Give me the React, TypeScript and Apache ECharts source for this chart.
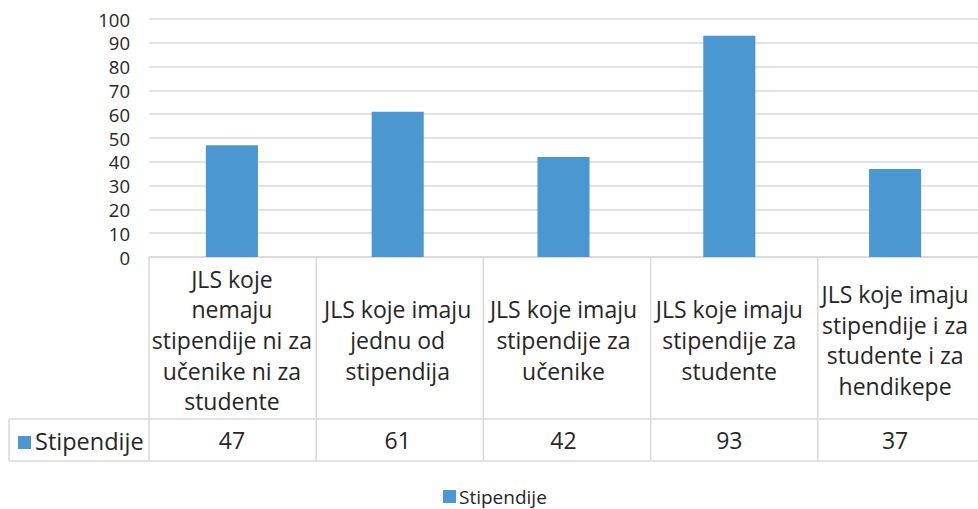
import React, { useEffect, useRef } from "react";
import * as echarts from "echarts";

const categories = [
  "JLS koje\nnemaju\nstipendije ni za\nučenike ni za\nstudente",
  "JLS koje imaju\njednu od\nstipendija",
  "JLS koje imaju\nstipendije za\nučenike",
  "JLS koje imaju\nstipendije za\nstudente",
  "JLS koje imaju\nstipendije i za\nstudente i za\nhendikepe",
];
const seriesName = "Stipendije";
const values = [47, 61, 42, 93, 37];
const yTicks = { min: 0, max: 100, interval: 10 };

const FONT = "'Open Sans', 'Noto Sans', sans-serif";
const TEXT = "#262626";
const LINE = "#d9d9d9";
const BAR = "#4A97D2";

// layout
const GRID_LEFT = 149;
const GRID_TOP = 19;
const GRID_WIDTH = 836;
const AXIS_Y = 257;
const ROW1_Y = 419;
const ROW2_Y = 461;
const LEG_LEFT = 9;

export default function App() {
  const ref = useRef<HTMLDivElement>(null);
  useEffect(() => {
    if (!ref.current) return;
    const chart = echarts.init(ref.current, undefined, { renderer: "svg" });
    const n = categories.length;
    const colW = GRID_WIDTH / n;
    const lineStyle = { stroke: LINE, lineWidth: 1.5 };
    const graphics: any[] = [];
    graphics.push({ type: "line", shape: { x1: LEG_LEFT, y1: ROW1_Y, x2: GRID_LEFT + GRID_WIDTH, y2: ROW1_Y }, style: lineStyle, silent: true });
    graphics.push({ type: "line", shape: { x1: LEG_LEFT, y1: ROW2_Y, x2: GRID_LEFT + GRID_WIDTH, y2: ROW2_Y }, style: lineStyle, silent: true });
    for (let i = 0; i <= n; i++) {
      const x = GRID_LEFT + i * colW;
      graphics.push({ type: "line", shape: { x1: x, y1: AXIS_Y, x2: x, y2: ROW2_Y }, style: lineStyle, silent: true });
    }
    graphics.push({ type: "line", shape: { x1: LEG_LEFT, y1: ROW1_Y, x2: LEG_LEFT, y2: ROW2_Y }, style: lineStyle, silent: true });
    graphics.push({ type: "rect", shape: { x: 18, y: 436, width: 13, height: 13 }, style: { fill: BAR }, silent: true });
    graphics.push({
      type: "text",
      x: 35,
      y: 441,
      style: { text: seriesName, font: `23.5px ${FONT}`, fill: TEXT, verticalAlign: "middle", align: "left" },
      silent: true,
    });

    chart.setOption({
      animation: false,
      grid: { left: GRID_LEFT, top: GRID_TOP, width: GRID_WIDTH, height: AXIS_Y - GRID_TOP, containLabel: false },
      legend: {
        data: [seriesName],
        left: 438,
        top: 482,
        icon: "rect",
        itemWidth: 13,
        itemHeight: 13,
        itemGap: 4,
        textStyle: { fontFamily: FONT, fontSize: 19, color: TEXT, padding: [0, 0, 0, -2] },
      },
      xAxis: [
        {
          type: "category",
          data: categories,
          axisLine: { show: true, lineStyle: { color: LINE, width: 1.5 } },
          axisTick: { show: false },
          axisLabel: {
            interval: 0,
            margin: 83,
            verticalAlign: "middle",
            fontFamily: FONT,
            fontSize: 23,
            lineHeight: 30.7,
            color: TEXT,
          },
        },
        {
          type: "category",
          data: values.map(String),
          position: "bottom",
          offset: 0,
          axisLine: { show: false },
          axisTick: { show: false },
          axisLabel: {
            interval: 0,
            margin: 183,
            verticalAlign: "middle",
            fontFamily: FONT,
            fontSize: 23,
            color: TEXT,
          },
        },
      ],
      yAxis: {
        type: "value",
        min: yTicks.min,
        max: yTicks.max,
        interval: yTicks.interval,
        axisLine: { show: false },
        axisTick: { show: false },
        splitLine: { lineStyle: { color: LINE, width: 1.5 } },
        axisLabel: { margin: 19, fontFamily: FONT, fontSize: 18.5, color: TEXT },
      },
      graphic: graphics,
      series: [
        {
          name: seriesName,
          type: "bar",
          xAxisIndex: 0,
          data: values,
          barWidth: "31.4%",
          itemStyle: { color: BAR },
        },
      ],
    });
    return () => chart.dispose();
  }, []);
  return <div ref={ref} style={{ width: 978, height: 509, position: "absolute", left: 0, top: 0 }} />;
}
